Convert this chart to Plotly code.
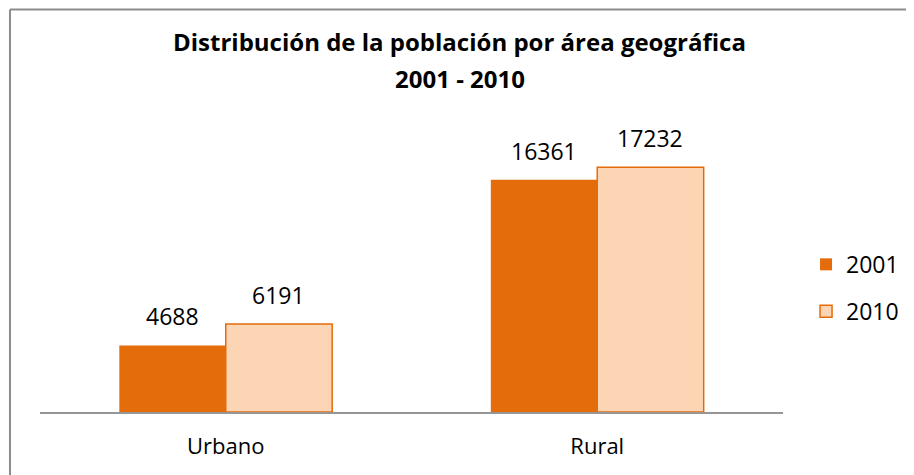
import plotly.graph_objects as go

# data
areas = ["Urbano", "Rural"]
pop_2001 = [4688, 16361]
pop_2010 = [6191, 17232]
series_names = ["2001", "2010"]
title_lines = ["Distribución de la población por área geográfica", "2001 - 2010"]

dark_orange = "#E46C0A"
light_peach = "#FCD5B5"
font_family = "'Open Sans', sans-serif"

fig = go.Figure()
fig.add_trace(go.Bar(
    x=areas, y=pop_2001, name=series_names[0], legendgroup="a",
    marker=dict(color=dark_orange, line=dict(color=dark_orange, width=0)),
))
fig.add_trace(go.Bar(
    x=areas, y=pop_2010, name=series_names[1], legendgroup="b",
    marker=dict(color=light_peach, line=dict(color=dark_orange, width=1.5)),
))

# value labels above the bars
annotations = []
for vals, shift in [(pop_2001, -53), (pop_2010, 53)]:
    for cat, v in zip(areas, vals):
        annotations.append(dict(
            x=cat, y=v, xref="x", yref="y", text=str(v), showarrow=False,
            xshift=shift, yshift=11, yanchor="bottom",
            font=dict(family=font_family, size=23, color="black"),
        ))

# two-line title
for line, ypos in zip(title_lines, [1.305, 1.175]):
    annotations.append(dict(
        x=0.565, y=ypos, xref="paper", yref="paper", showarrow=False,
        xanchor="center", yanchor="middle",
        text="<b>" + line + "</b>",
        font=dict(family=font_family, size=24, color="black"),
    ))

# frame round the chart (only top and left edges fall inside the window)
frame = [
    dict(type="line", xref="paper", yref="paper",
         x0=-0.0404, x1=1.6, y0=1.417, y1=1.417,
         line=dict(color="#8C8C8C", width=2), layer="below"),
    dict(type="line", xref="paper", yref="paper",
         x0=-0.0404, x1=-0.0404, y0=-0.4, y1=1.417,
         line=dict(color="#8C8C8C", width=2), layer="below"),
]

fig.update_layout(
    width=914, height=475,
    margin=dict(l=32, r=139, t=120, b=71),
    paper_bgcolor="white", plot_bgcolor="white",
    barmode="group", bargap=0.427, bargroupgap=0,
    font=dict(family=font_family, size=22, color="black"),
    annotations=annotations,
    showlegend=True,
    legend=dict(
        x=1.031, y=0.437, xanchor="left", yanchor="middle",
        font=dict(family=font_family, size=23, color="black"),
        tracegroupgap=14, bgcolor="rgba(0,0,0,0)",
    ),
    shapes=frame,
)
fig.update_xaxes(
    showline=True, linecolor="#969696", linewidth=1.5,
    showgrid=False, ticks="", ticklabelstandoff=14,
    tickfont=dict(family=font_family, size=22, color="black"),
)
fig.update_yaxes(visible=False, range=[0, 20000])

fig.write_html("out.html")
